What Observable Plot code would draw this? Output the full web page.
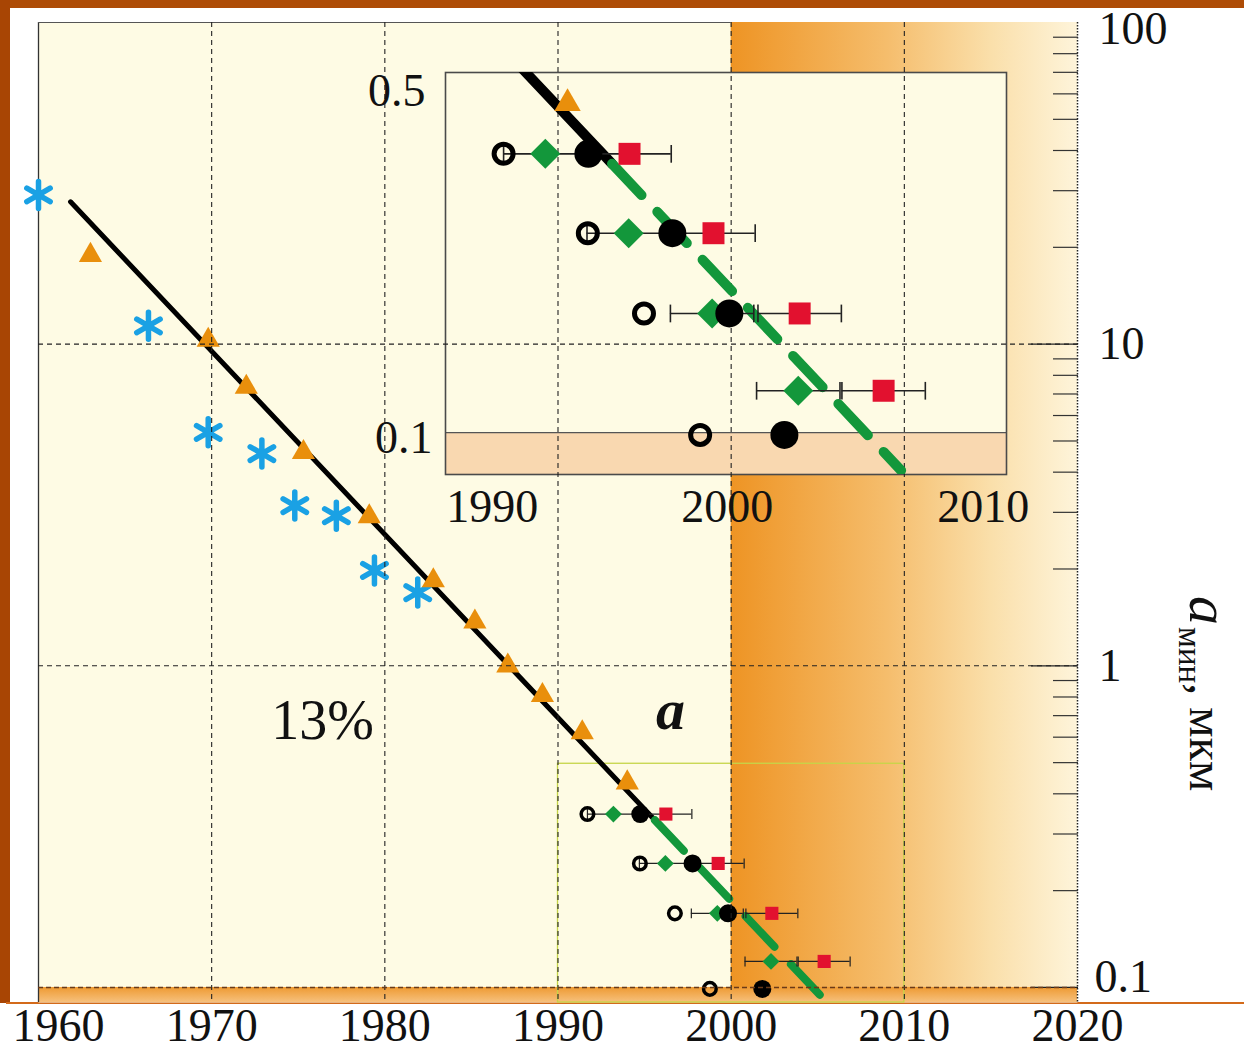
<!DOCTYPE html>
<html><head><meta charset="utf-8">
<script src="https://cdn.jsdelivr.net/npm/d3@7"></script>
<script src="https://cdn.jsdelivr.net/npm/@observablehq/plot@0.6"></script>
<style>
html,body{margin:0;padding:0;background:#fff;}
#stage{position:relative;width:1244px;height:1050px;overflow:hidden;background:#fff;font-family:"Liberation Serif",serif;}
#stage svg{position:absolute;left:0;top:0;}
.deco{position:absolute;}
</style></head><body>
<div id="stage">
  <div class="deco" style="left:0;top:0;width:1244px;height:8px;background:#ae4c06"></div>
  <div class="deco" style="left:0;top:0;width:10px;height:1003px;background:#a84504"></div>
  <div class="deco" style="left:6px;top:1002px;width:1238px;height:2px;background:#d36a1a"></div>
</div>
<script>
// ---------------- data ----------------
const asteriskYears  = [1960.0, 1966.35, 1969.8, 1972.9, 1974.8, 1977.2, 1979.4, 1981.9];
const asteriskValues = [29.1, 11.4, 5.32, 4.57, 3.15, 2.93, 1.98, 1.69];

const triangleYears  = [1963.0, 1969.8, 1972.0, 1975.3, 1979.1, 1982.8, 1985.2, 1987.1, 1989.1, 1991.4, 1994.0];
const triangleValues = [18.9, 10.3, 7.35, 4.61, 2.91, 1.84, 1.37, 1.0, 0.81, 0.62, 0.433];

const trendYears     = [1961.85, 1995.6];
const trendValues    = [27.7, 0.331];
const forecastYears  = [1995.6, 2006.0];
const forecastValues = [0.331, 0.0845];

const openCircleYears  = [1991.7, 1994.73, 1996.75, 1998.77];
const openCircleValues = [0.346, 0.243, 0.170, 0.099];
const diamondYears     = [1993.2, 1996.2, 1999.2, 2002.3];
const diamondValues    = [0.346, 0.243, 0.170, 0.1205];
const diamondErrors    = [1.5, 1.5, 1.5, 1.5];
const dotYears         = [1994.75, 1997.77, 1999.82, 2001.8];
const dotValues        = [0.346, 0.243, 0.170, 0.099];
const squareYears      = [1996.23, 1999.25, 2002.35, 2005.37];
const squareValues     = [0.346, 0.243, 0.170, 0.1205];
const squareErrors     = [1.5, 1.5, 1.5, 1.5];

const xTickYears     = [1970, 1980, 1990, 2000, 2010, 2020];
const firstTickYear  = [1960];
const gridYears      = [1970, 1980, 1990, 2000, 2010];
const gridValues     = [10, 1];
const yTopLabel      = [100];
const yLabelValues   = [10, 1];
const yLowLabel      = [0.1];
const majorTicks     = [10, 1, 0.1];
const minorTicks     = [0.2,0.3,0.4,0.5,0.6,0.7,0.8,0.9, 2,3,4,5,6,7,8,9, 20,30,40,50,60,70,80,90];

const shadeYears     = {from: 2000, to: 2020};
const zoomBox        = {from: 1990, to: 2010, top: 0.496};
const nanoLimit      = 0.1;

const annotations    = [{label: "13%", year: 1976.4, value: 0.674}];
const panelLabel     = [{label: "a", year: 1996.5, value: 0.725}];

const insetXTicks    = [1990, 2000, 2010];
const insetYTicks    = [0.5, 0.1];

const yTitle = {symbol: "a", sub: "мин", unit: ", мкм"};

// ---------------- layout / style ----------------
const W = 1244, H = 1050;
const MAIN_X = [1960, 2020], MAIN_Y = [0.0898, 100];
const INSET_X = [1989.61, 2009.79], INSET_Y = [0.083, 0.497];
const mainM  = {marginLeft: 38, marginRight: 167, marginTop: 22, marginBottom: 48};
const insetM = {marginLeft: 445, marginRight: 238, marginTop: 72, marginBottom: 576};
const FONT = "'Liberation Serif', 'Times New Roman', serif";
const cream = "#fefbe4", orange = "#e98f0c", green = "#13973b", red = "#e2112f", blue = "#1aa1e4";
const baseStyle = {background: "transparent", fontFamily: FONT, overflow: "visible"};

const rows = (xs, ys) => xs.map((x, i) => ({year: x, value: ys[i]}));
const asterisks = rows(asteriskYears, asteriskValues);
const triangles = rows(triangleYears, triangleValues);
const trend = rows(trendYears, trendValues);
const forecast = rows(forecastYears, forecastValues);
const openCircles = rows(openCircleYears, openCircleValues);
const diamonds = rows(diamondYears, diamondValues);
const dots = rows(dotYears, dotValues);
const squares = rows(squareYears, squareValues);
const errRows = (xs, ys, es) => xs.map((x, i) => ({year: x, value: ys[i], lo: x - es[i], hi: x + es[i]}));
const errBars = [...errRows(diamondYears, diamondValues, diamondErrors), ...errRows(squareYears, squareValues, squareErrors)];
const caps = errBars.flatMap(d => [{year: d.lo, value: d.value}, {year: d.hi, value: d.value}]);

const capSymbol = {draw(ctx, size) { const h = Math.sqrt(size) * 0.5; ctx.moveTo(0, -h); ctx.lineTo(0, h); }};

function pointMarks(s) {
  return [
    Plot.ruleY(errBars, {y: "value", x1: "lo", x2: "hi", stroke: "#222", strokeWidth: s.err}),
    Plot.dot(caps, {x: "year", y: "value", symbol: capSymbol, r: s.cap, stroke: "#222", fill: "none", strokeWidth: s.err}),
    Plot.dot(openCircles, {x: "year", y: "value", r: s.circ, stroke: "#000", strokeWidth: s.circW, fill: "none"}),
    Plot.dot(diamonds, {x: "year", y: "value", symbol: "diamond2", r: s.diam, fill: green, stroke: null}),
    Plot.dot(dots, {x: "year", y: "value", r: s.dot, fill: "#000", stroke: null}),
    Plot.dot(squares, {x: "year", y: "value", symbol: "square", r: s.sq, fill: red, stroke: null})
  ];
}
const lbl = d => `${d}`;

// ---------------- layer A: main chart ----------------
const main = Plot.plot({
  width: W, height: H, ...mainM,
  x: {domain: MAIN_X, axis: null, label: null},
  y: {type: "log", domain: MAIN_Y, axis: null, label: null},
  style: baseStyle,
  marks: [
    Plot.frame({fill: cream, stroke: null}),
    Plot.rect([shadeYears], {x1: "from", x2: "to", fill: "url(#shadeGrad)"}),
    Plot.rect([{lo: MAIN_Y[0], hi: nanoLimit}], {y1: "lo", y2: "hi", fill: "url(#bandGrad)"}),
    Plot.rect([zoomBox], {x1: "from", x2: "to", y1: () => MAIN_Y[0], y2: "top", fill: "none", stroke: "#c6d548", strokeWidth: 1.3}),
    Plot.ruleX([MAIN_X[0]], {stroke: "#333", strokeWidth: 1.3}),
    Plot.ruleY([MAIN_Y[1]], {x1: () => MAIN_X[0], x2: () => shadeYears.from, stroke: "#555", strokeWidth: 1}),
    Plot.ruleX([MAIN_X[1]], {stroke: "#222", strokeWidth: 1.5, strokeDasharray: "1.5,1.5"}),
    Plot.axisY(minorTicks, {anchor: "right", tickSize: 25, dx: -25, tickFormat: () => "", stroke: "#333", strokeWidth: 1.2}),
    Plot.axisY(majorTicks, {anchor: "right", tickSize: 47, dx: -47, tickFormat: () => "", stroke: "#222", strokeWidth: 1.3}),
    Plot.line(trend, {x: "year", y: "value", stroke: "#000", strokeWidth: 5}),
    Plot.line(forecast, {x: "year", y: "value", stroke: green, strokeWidth: 8, strokeDasharray: "42,24", clip: true}),
    Plot.dot(asterisks, {x: "year", y: "value", symbol: "asterisk", r: 12.8, stroke: blue, strokeWidth: 5.5, strokeLinecap: "round"}),
    Plot.dot(triangles, {x: "year", y: "value", symbol: "triangle", r: 8.6, fill: orange, stroke: null}),
    ...pointMarks({err: 1.2, cap: 5.6, circ: 6.3, circW: 3.5, diam: 7.6, dot: 9, sq: 7.4}),
    Plot.text(annotations, {x: "year", y: "value", text: "label", fontSize: 56, fill: "#111"}),
    Plot.text(panelLabel, {x: "year", y: "value", text: "label", fontSize: 58, fontWeight: "bold", fontStyle: "italic", fill: "#111"}),
    Plot.axisX(xTickYears, {anchor: "bottom", tickSize: 0, tickPadding: 6, fontSize: 46, tickFormat: lbl, fill: "#111"}),
    Plot.axisX(firstTickYear, {anchor: "bottom", tickSize: 0, tickPadding: 6, fontSize: 46, dx: 20, tickFormat: lbl, fill: "#111"}),
    Plot.axisY(yTopLabel, {anchor: "right", tickSize: 0, tickPadding: 21, dy: 7, fontSize: 46, tickFormat: lbl, fill: "#111"}),
    Plot.axisY(yLabelValues, {anchor: "right", tickSize: 0, tickPadding: 21, fontSize: 46, tickFormat: lbl, fill: "#111"}),
    Plot.axisY(yLowLabel, {anchor: "right", tickSize: 0, tickPadding: 17, dy: -10, fontSize: 46, tickFormat: lbl, fill: "#111"})
  ]
});
const ns = "http://www.w3.org/2000/svg";
const defs = document.createElementNS(ns, "defs");
defs.innerHTML = `
  <linearGradient id="shadeGrad" x1="0" y1="0" x2="1" y2="0">
    <stop offset="0" stop-color="#ee9424"/>
    <stop offset="0.45" stop-color="#f5bd6c"/>
    <stop offset="0.75" stop-color="#fadfaa"/>
    <stop offset="1" stop-color="#fef4da"/>
  </linearGradient>
  <linearGradient id="bandGrad" x1="0" y1="0" x2="0" y2="1">
    <stop offset="0" stop-color="#ee9a32"/>
    <stop offset="1" stop-color="#f6c07c"/>
  </linearGradient>`;
main.insertBefore(defs, main.firstChild);

// ---------------- layer B: inset background ----------------
const insetScales = {
  x: {domain: INSET_X, axis: null, label: null},
  y: {type: "log", domain: INSET_Y, axis: null, label: null}
};
const insetBg = Plot.plot({
  width: W, height: H, ...insetM, ...insetScales, style: baseStyle,
  marks: [
    Plot.frame({fill: cream, stroke: null}),
    Plot.rect([{lo: INSET_Y[0], hi: nanoLimit}], {y1: "lo", y2: "hi", fill: "#f9d8b0"}),
    Plot.ruleY([nanoLimit], {stroke: "#555", strokeWidth: 1.3}),
    Plot.frame({stroke: "#4a4a4a", strokeWidth: 1.6})
  ]
});

// ---------------- layer C: main grid ----------------
const grid = Plot.plot({
  width: W, height: H, ...mainM,
  x: {domain: MAIN_X, axis: null, label: null},
  y: {type: "log", domain: MAIN_Y, axis: null, label: null},
  style: baseStyle,
  marks: [
    Plot.ruleX(gridYears, {stroke: "#222", strokeWidth: 1.1, strokeDasharray: "5,4"}),
    Plot.ruleY(gridValues, {stroke: "#222", strokeWidth: 1.1, strokeDasharray: "5,4"}),
    Plot.ruleY([nanoLimit], {stroke: "#6a3a18", strokeWidth: 1.6, strokeDasharray: "5,3"})
  ]
});

// ---------------- layer D: inset content ----------------
const inset = Plot.plot({
  width: W, height: H, ...insetM, ...insetScales, style: baseStyle,
  marks: [
    Plot.line(trend, {x: "year", y: "value", stroke: "#000", strokeWidth: 10, clip: true}),
    Plot.line(forecast, {x: "year", y: "value", stroke: green, strokeWidth: 10, strokeDasharray: "43,23", clip: true}),
    Plot.dot(triangles, {x: "year", y: "value", symbol: "triangle", r: 9.8, fill: orange, stroke: null, clip: true}),
    ...pointMarks({err: 1.6, cap: 10, circ: 9.5, circW: 5, diam: 13.5, dot: 14, sq: 12.4}),
    Plot.axisX([insetXTicks[0]], {anchor: "bottom", tickSize: 0, tickPadding: 15, dx: 36, fontSize: 46, tickFormat: lbl, fill: "#111"}),
    Plot.axisX([insetXTicks[1]], {anchor: "bottom", tickSize: 0, tickPadding: 15, dx: -7, fontSize: 46, tickFormat: lbl, fill: "#111"}),
    Plot.axisX([insetXTicks[2]], {anchor: "bottom", tickSize: 0, tickPadding: 15, dx: -29, fontSize: 46, tickFormat: lbl, fill: "#111"}),
    Plot.axisY([insetYTicks[0]], {anchor: "left", tickSize: 0, tickPadding: 20, dy: 20, fontSize: 46, tickFormat: lbl, fill: "#111"}),
    Plot.axisY([insetYTicks[1]], {anchor: "left", tickSize: 0, tickPadding: 13, dy: 6, fontSize: 46, tickFormat: lbl, fill: "#111"})
  ]
});

const stage = document.getElementById("stage");
[main, insetBg, grid, inset].forEach(el => stage.appendChild(el));

// ---------------- y-axis title (rotated, reading downward) ----------------
const tsvg = d3.create("svg").attr("width", W).attr("height", H).style("background", "transparent");
const t = tsvg.append("text")
  .attr("transform", "translate(1190,596) rotate(90)")
  .attr("font-family", FONT).attr("fill", "#111");
t.append("tspan").attr("font-size", 58).attr("font-style", "italic").text(yTitle.symbol);
t.append("tspan").attr("font-size", 33).attr("dy", 11).attr("dx", 2).text(yTitle.sub);
t.append("tspan").attr("font-size", 48).attr("dy", -11).text(yTitle.unit);
stage.appendChild(tsvg.node());
</script>
</body></html>
